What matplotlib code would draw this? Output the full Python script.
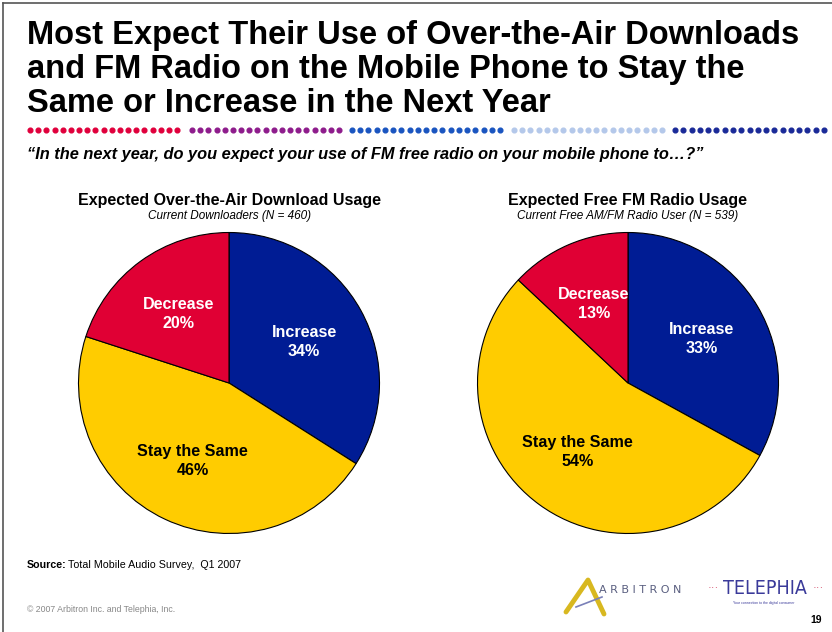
import matplotlib
matplotlib.use('Agg')
import matplotlib.pyplot as plt
from matplotlib.lines import Line2D
import numpy as np

plt.rcParams['font.family'] = ['Liberation Sans', 'DejaVu Sans']

# 数据
categories = ['Increase', 'Stay the Same', 'Decrease']
download_values = [34, 46, 20]
radio_values = [33, 54, 13]
colors = ['#001C94', '#FFCC00', '#E00034']
label_colors = ['white', 'black', 'white']

title_text = ('Most Expect Their Use of Over-the-Air Downloads\n'
              'and FM Radio on the Mobile Phone to Stay the\n'
              'Same or Increase in the Next Year')
question = '\u201cIn the next year, do you expect your use of FM free radio on your mobile phone to\u2026?\u201d'

W, H = 832, 632
fig = plt.figure(figsize=(W / 100, H / 100), dpi=100)


def fx(x):
    return x / W


def fy(y):
    return 1 - y / H


# 边框（左、上）
fig.add_artist(Line2D([fx(3), fx(3)], [fy(3), fy(632)], color='#555555', lw=1.2))
fig.add_artist(Line2D([fx(3), fx(832)], [fy(3), fy(3)], color='#555555', lw=1.2))

# 标题
fig.text(fx(27), fy(20), title_text, fontsize=23.5, fontweight='bold',
         va='top', ha='left', linespacing=1.13)

# 彩色点线
dot_groups = [(30, 177, '#E0003C'), (192, 339, '#8E1C8C'), (352, 500, '#1A55C0'),
              (514, 662, '#B4C8EA'), (675, 824, '#1A2A98')]
for x0, x1, c in dot_groups:
    xs = np.linspace(x0, x1, 19)
    fig.add_artist(Line2D(fx(xs), [fy(130)] * len(xs), ls='none', marker='o',
                          ms=3.4, mfc=c, mec=c))

fig.text(fx(27), fy(155), question, fontsize=11.8, fontweight='bold',
         style='italic', va='center', ha='left')

R = 152


def draw_pie(cx, values, title, sub):
    ax = fig.add_axes([fx(cx - R), fy(383 + R), 2 * R / W, 2 * R / H])
    labels = [f'{c}\n{v}%' for c, v in zip(categories, values)]
    wedges, texts = ax.pie(values, colors=colors, startangle=90, counterclock=False,
                           labels=labels, labeldistance=0.57,
                           wedgeprops=dict(edgecolor='black', linewidth=0.8))
    for t, c in zip(texts, label_colors):
        t.set_color(c)
        t.set_fontweight('bold')
        t.set_fontsize(11.6)
        t.set_ha('center')
        t.set_va('center')
        t.set_linespacing(1.35)
    ax.set_xlim(-1.01, 1.01)
    ax.set_ylim(-1.01, 1.01)
    ax.axis('off')
    fig.text(fx(cx), fy(201), title, fontsize=11.5, fontweight='bold',
             ha='center', va='center')
    fig.text(fx(cx), fy(216), sub, fontsize=8.5, style='italic',
             ha='center', va='center')


draw_pie(229, download_values, 'Expected Over-the-Air Download Usage',
         'Current Downloaders (N = 460)')
draw_pie(628, radio_values, 'Expected Free FM Radio Usage',
         'Current Free AM/FM Radio User (N = 539)')

# 来源与版权
fig.text(fx(27), fy(565), 'Source:', fontsize=7.7, fontweight='bold', va='center')
fig.text(fx(68), fy(565), 'Total Mobile Audio Survey,  Q1 2007', fontsize=7.7, va='center')
fig.text(fx(27), fy(610), '\u00a9 2007 Arbitron Inc. and Telephia, Inc.', fontsize=6.3,
         color='#888888', va='center')
fig.text(fx(822), fy(620), '19', fontsize=7.5, fontweight='bold', ha='right', va='center')

# 标志（近似）
fig.add_artist(Line2D(fx(np.array([566, 588, 604])), fy(np.array([612, 580, 614])),
                      color='#D8B820', lw=3.5, solid_capstyle='round'))
fig.add_artist(Line2D(fx(np.array([576, 602])), fy(np.array([607, 597])),
                      color='#7A80B8', lw=1.2))
fig.text(fx(599), fy(590), 'A R B I T R O N', fontsize=8, color='#5A5F80', va='center',
         family=['DejaVu Sans'])
fig.text(fx(719), fy(588), '\u00b7\u00b7\u00b7', fontsize=8, color='#D04060', va='center', ha='right')
fig.text(fx(765), fy(588), 'TELEPHIA', fontsize=14, color='#3A3A9A', va='center', ha='center',
         family=['DejaVu Sans'], stretch='condensed')
fig.text(fx(824), fy(588), '\u00b7\u00b7\u00b7', fontsize=8, color='#D04060', va='center', ha='right')
fig.text(fx(764), fy(603), 'Your connection to the digital consumer', fontsize=2.5,
         color='#3A3A9A', va='center', ha='center')

fig.savefig('out.png', dpi=100)
